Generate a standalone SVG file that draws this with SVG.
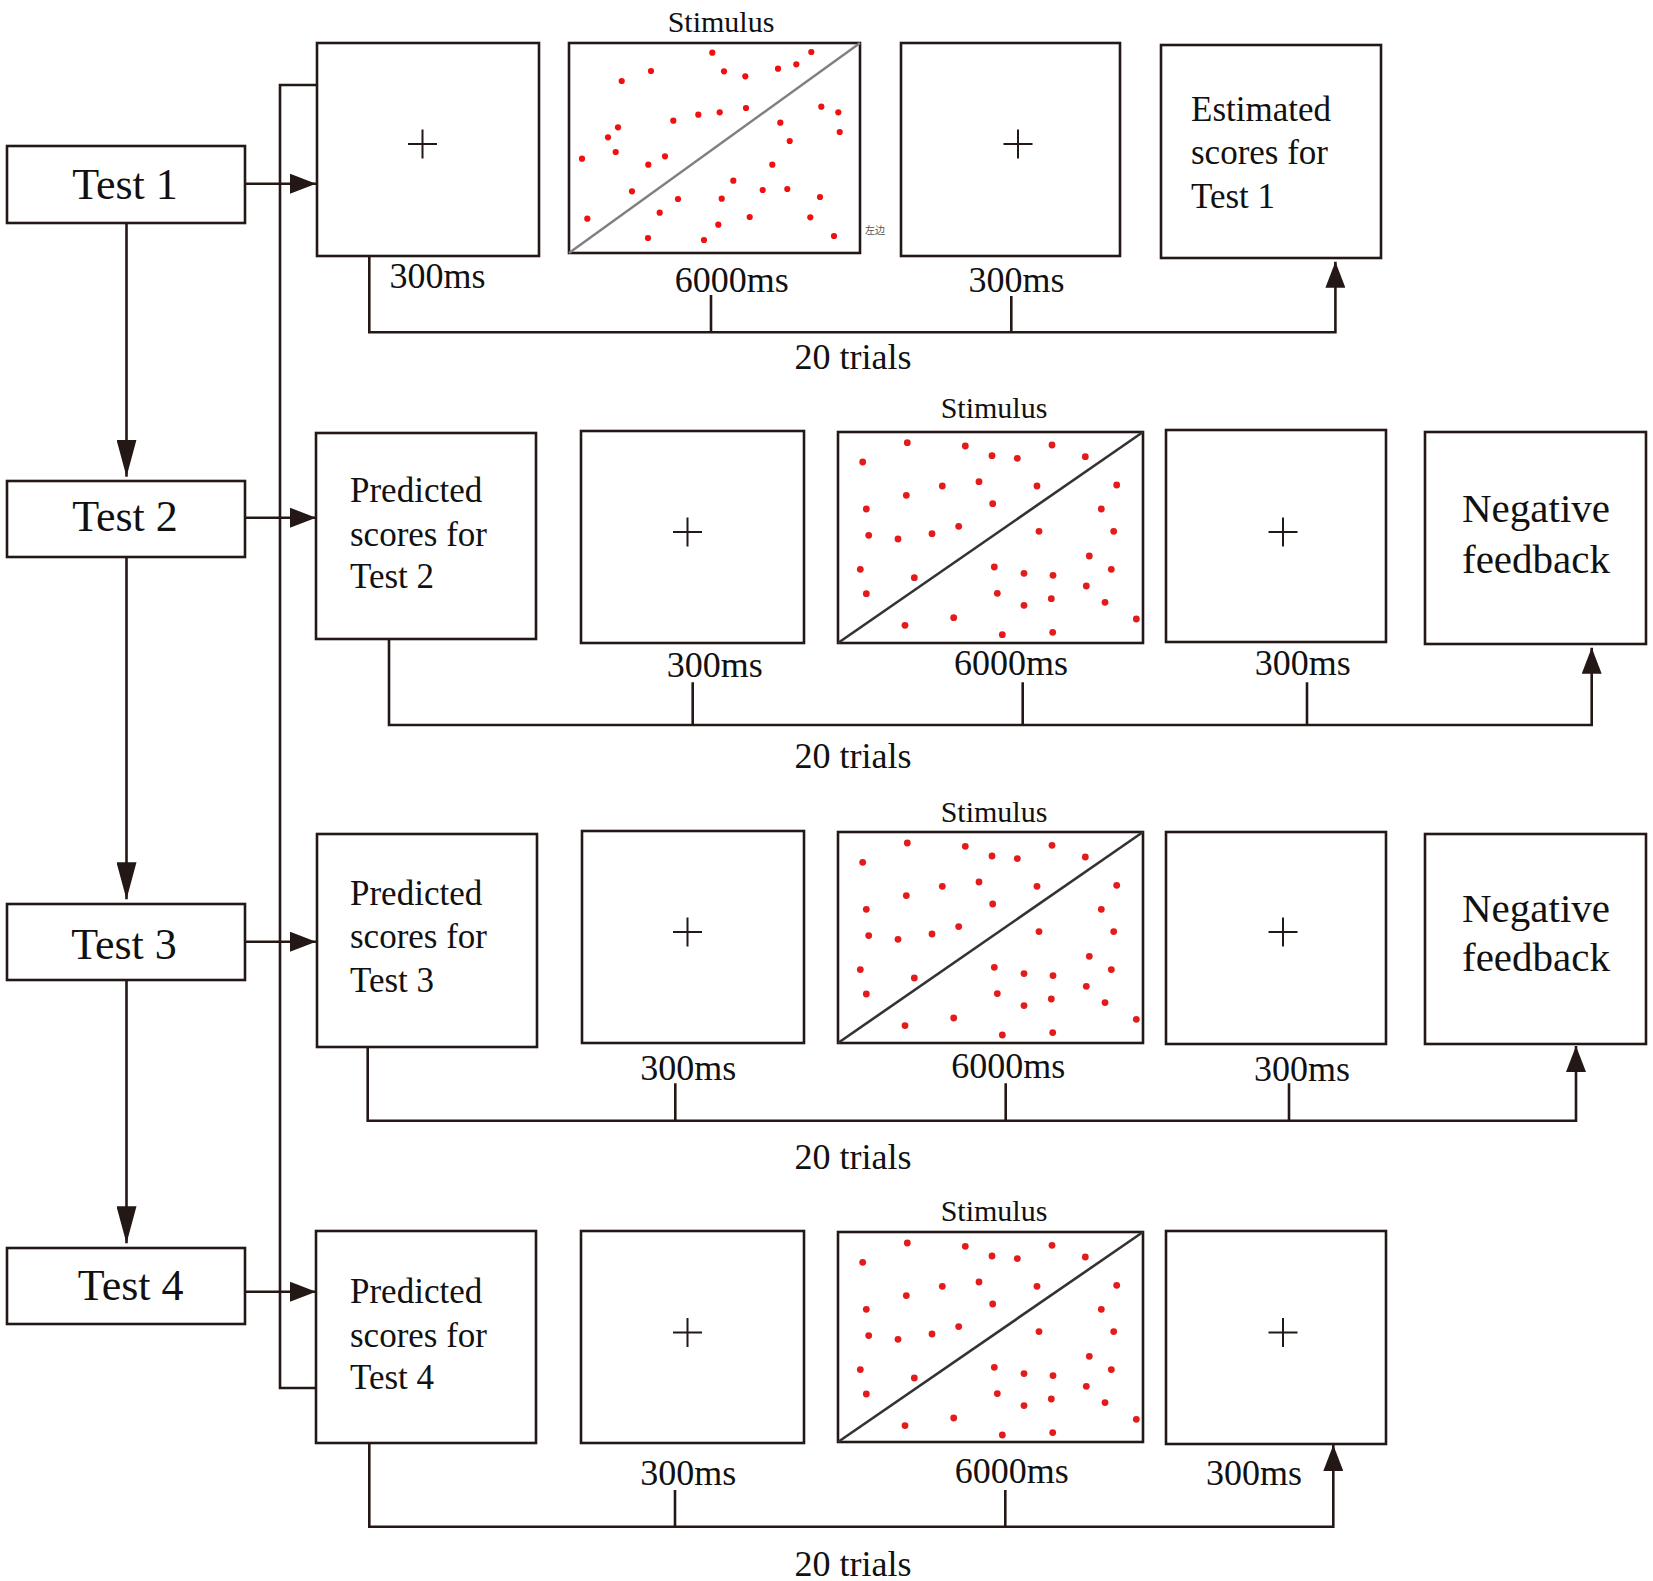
<svg xmlns="http://www.w3.org/2000/svg" xmlns:xlink="http://www.w3.org/1999/xlink" width="1653" height="1581" viewBox="0 0 1653 1581">
<style>
.box{fill:#fff;stroke:#231815;stroke-width:2.6}
.stim{fill:#fff;stroke:#231815;stroke-width:2.6}
.ln{fill:none;stroke:#231815;stroke-width:2.6}
.plus{fill:none;stroke:#231815;stroke-width:2}
.t{font-family:"Liberation Serif","Times New Roman",serif;fill:#111}
.tb{font-size:44px;text-anchor:middle}
.tx{font-size:35px}
.lab{font-size:36px;text-anchor:middle}
.neg{font-size:41px;text-anchor:middle}
.st{font-size:30px;text-anchor:middle}
.d1{fill:#f01010}
.d2{fill:#e31b1b}
</style>
<defs>
<marker id="ah" viewBox="0 0 26 20" refX="26" refY="10" markerWidth="26" markerHeight="20" orient="auto" markerUnits="userSpaceOnUse"><path d="M0,0 L26,10 L0,20 Z" fill="#231815"/></marker>
<marker id="ahl" viewBox="0 0 37 20" refX="37" refY="10" markerWidth="37" markerHeight="20" orient="auto" markerUnits="userSpaceOnUse"><path d="M0,0 L37,10 L0,20 Z" fill="#231815"/></marker>
<g id="dots2" class="d2">
<circle cx="907.3" cy="442.7" r="3.4"/><circle cx="965.3" cy="446" r="3.4"/><circle cx="1052" cy="445" r="3.4"/><circle cx="862.7" cy="462" r="3.4"/><circle cx="992" cy="455.7" r="3.4"/><circle cx="1017.3" cy="458.3" r="3.4"/><circle cx="1085.3" cy="456.7" r="3.4"/><circle cx="942.3" cy="486" r="3.4"/><circle cx="979" cy="481.7" r="3.4"/><circle cx="1037" cy="486" r="3.4"/><circle cx="1116.7" cy="485" r="3.4"/><circle cx="906.3" cy="495.3" r="3.4"/><circle cx="992.7" cy="503.7" r="3.4"/><circle cx="866.3" cy="509" r="3.4"/><circle cx="1101.3" cy="509" r="3.4"/><circle cx="868.7" cy="535.3" r="3.4"/><circle cx="898" cy="539" r="3.4"/><circle cx="932" cy="533.7" r="3.4"/><circle cx="958.7" cy="526.3" r="3.4"/><circle cx="1039" cy="531.3" r="3.4"/><circle cx="1113.7" cy="531.3" r="3.4"/><circle cx="1089.3" cy="556" r="3.4"/><circle cx="860.3" cy="569.3" r="3.4"/><circle cx="994.3" cy="567" r="3.4"/><circle cx="1024" cy="573.3" r="3.4"/><circle cx="1053" cy="575.3" r="3.4"/><circle cx="1111.3" cy="569.3" r="3.4"/><circle cx="914.3" cy="577.7" r="3.4"/><circle cx="1086.3" cy="586" r="3.4"/><circle cx="866.3" cy="593.7" r="3.4"/><circle cx="997.3" cy="593.3" r="3.4"/><circle cx="1024" cy="605.3" r="3.4"/><circle cx="1051.3" cy="598.7" r="3.4"/><circle cx="1105" cy="602.3" r="3.4"/><circle cx="1136.3" cy="619" r="3.4"/><circle cx="953.7" cy="617.7" r="3.4"/><circle cx="905" cy="625.3" r="3.4"/><circle cx="1002.3" cy="634.7" r="3.4"/><circle cx="1052.7" cy="632.3" r="3.4"/>
</g>
</defs>
<rect width="1653" height="1581" fill="#fff"/>

<g id="connectors">
<path class="ln" d="M126.5,223 V476.7" marker-end="url(#ahl)"/>
<path class="ln" d="M126.5,557 V899.3" marker-end="url(#ahl)"/>
<path class="ln" d="M126.5,980 V1243.3" marker-end="url(#ahl)"/>
<path class="ln" d="M245,183.7 H316" marker-end="url(#ah)"/>
<path class="ln" d="M245,517.7 H316" marker-end="url(#ah)"/>
<path class="ln" d="M245,941.7 H316" marker-end="url(#ah)"/>
<path class="ln" d="M245,1291.7 H316" marker-end="url(#ah)"/>
<path class="ln" d="M317,85 H280 V1388 H316"/>
<path class="ln" d="M369.3,256 V332.3 H1335.4 V261.7" marker-end="url(#ah)"/>
<path class="ln" d="M711,295 V332.3 M1011.3,296 V332.3"/>
<path class="ln" d="M389,639.3 V725 H1591.7 V647.7" marker-end="url(#ah)"/>
<path class="ln" d="M692.7,682.3 V725 M1022.7,682.3 V725 M1307,682.3 V725"/>
<path class="ln" d="M367.7,1046.7 V1120.7 H1576 V1046" marker-end="url(#ah)"/>
<path class="ln" d="M675.3,1083.3 V1120.7 M1005.7,1083.3 V1120.7 M1289,1083.3 V1120.7"/>
<path class="ln" d="M369.3,1443.3 V1526.7 H1333.3 V1445" marker-end="url(#ah)"/>
<path class="ln" d="M675,1490 V1526.7 M1005.3,1490 V1526.7"/>
</g>

<g id="test1"><rect class="box" x="7" y="146" width="238" height="77"/><text class="t tb" x="125" y="199">Test 1</text></g>
<g id="test2"><rect class="box" x="7" y="481" width="238" height="76"/><text class="t tb" x="125" y="531">Test 2</text></g>
<g id="test3"><rect class="box" x="7" y="904" width="238" height="76"/><text class="t tb" x="124" y="959">Test 3</text></g>
<g id="test4"><rect class="box" x="7" y="1248" width="238" height="76"/><text class="t tb" x="130.7" y="1300">Test 4</text></g>

<!-- Row 1 -->
<g id="r1-fix1"><rect class="box" x="317" y="43" width="222" height="213"/><path class="plus" d="M408,144 h29 M422.5,129.5 v29"/></g>
<g id="r1-stim">
<text class="t st" x="721" y="32">Stimulus</text>
<rect class="stim" x="569" y="43" width="291" height="210"/>
<line x1="569" y1="253" x2="860" y2="43" stroke="#808080" stroke-width="2.5"/>
<g class="d1">
<circle cx="712.3" cy="52.7" r="3.1"/><circle cx="811.3" cy="52" r="3.1"/><circle cx="651" cy="71" r="3.1"/><circle cx="724" cy="71.3" r="3.1"/><circle cx="745.3" cy="76.3" r="3.1"/><circle cx="778" cy="68.7" r="3.1"/><circle cx="796.3" cy="64.3" r="3.1"/><circle cx="621.7" cy="81" r="3.1"/><circle cx="821.3" cy="106.7" r="3.1"/><circle cx="838.3" cy="112.3" r="3.1"/><circle cx="839.7" cy="132" r="3.1"/><circle cx="746" cy="108" r="3.1"/><circle cx="719.7" cy="112.3" r="3.1"/><circle cx="698.3" cy="114.7" r="3.1"/><circle cx="673.3" cy="120.7" r="3.1"/><circle cx="618" cy="127.3" r="3.1"/><circle cx="608" cy="137.3" r="3.1"/><circle cx="780.3" cy="122.7" r="3.1"/><circle cx="789.7" cy="141" r="3.1"/><circle cx="615.7" cy="152" r="3.1"/><circle cx="582" cy="158.7" r="3.1"/><circle cx="665" cy="156.3" r="3.1"/><circle cx="648.3" cy="164.7" r="3.1"/><circle cx="772.3" cy="164.7" r="3.1"/><circle cx="733.3" cy="180.7" r="3.1"/><circle cx="632" cy="191.3" r="3.1"/><circle cx="762.7" cy="190" r="3.1"/><circle cx="787.3" cy="189" r="3.1"/><circle cx="820" cy="197" r="3.1"/><circle cx="678" cy="199" r="3.1"/><circle cx="721.7" cy="198.7" r="3.1"/><circle cx="659.7" cy="212.7" r="3.1"/><circle cx="587.3" cy="218.7" r="3.1"/><circle cx="749.7" cy="217" r="3.1"/><circle cx="810.3" cy="217.3" r="3.1"/><circle cx="718.3" cy="224.7" r="3.1"/><circle cx="648" cy="238" r="3.1"/><circle cx="704" cy="240" r="3.1"/><circle cx="834" cy="236" r="3.1"/>
</g>
<text x="865" y="234" font-family="'Noto Sans CJK SC',sans-serif" font-size="10" fill="#555">左边</text>
</g>
<g id="r1-fix2"><rect class="box" x="901" y="43" width="219" height="213"/><path class="plus" d="M1003.5,144 h29 M1018,129.5 v29"/></g>
<g id="r1-est"><rect class="box" x="1161" y="45" width="220" height="213"/>
<text class="t tx" x="1191" y="120.7">Estimated</text><text class="t tx" x="1191" y="164.3">scores for</text><text class="t tx" x="1191" y="208.3">Test 1</text></g>
<g id="r1-labels">
<text class="t lab" x="437.5" y="288">300ms</text><text class="t lab" x="731.7" y="292">6000ms</text><text class="t lab" x="1016.4" y="292">300ms</text>
<text class="t lab" x="853" y="369">20 trials</text>
</g>

<!-- Row 2 -->
<g id="r2-pred"><rect class="box" x="316" y="433" width="220" height="206"/>
<text class="t tx" x="350" y="501.7">Predicted</text><text class="t tx" x="350" y="546">scores for</text><text class="t tx" x="350" y="588">Test 2</text></g>
<g id="r2-fix1"><rect class="box" x="581" y="431" width="223" height="212"/><path class="plus" d="M673,532 h29 M687.5,517.5 v29"/></g>
<g id="r2-stim">
<text class="t st" x="994" y="418">Stimulus</text>
<rect class="stim" x="838" y="432" width="305" height="211"/>
<line x1="838" y1="643" x2="1143" y2="432" stroke="#333" stroke-width="2.6"/>
<use xlink:href="#dots2"/>
</g>
<g id="r2-fix2"><rect class="box" x="1166" y="430" width="220" height="212"/><path class="plus" d="M1268.5,532 h29 M1283,517.5 v29"/></g>
<g id="r2-neg"><rect class="box" x="1425" y="432" width="221" height="212"/>
<text class="t neg" x="1536" y="521.7">Negative</text><text class="t neg" x="1536" y="573.3">feedback</text></g>
<g id="r2-labels">
<text class="t lab" x="714.8" y="677">300ms</text><text class="t lab" x="1011" y="675">6000ms</text><text class="t lab" x="1302.7" y="675">300ms</text>
<text class="t lab" x="853" y="768">20 trials</text>
</g>

<!-- Row 3 -->
<g id="r3-pred"><rect class="box" x="317" y="834" width="220" height="213"/>
<text class="t tx" x="350" y="905">Predicted</text><text class="t tx" x="350" y="948.3">scores for</text><text class="t tx" x="350" y="992.3">Test 3</text></g>
<g id="r3-fix1"><rect class="box" x="582" y="831" width="222" height="212"/><path class="plus" d="M673,932 h29 M687.5,917.5 v29"/></g>
<g id="r3-stim">
<text class="t st" x="994" y="822">Stimulus</text>
<rect class="stim" x="838" y="832" width="305" height="211"/>
<line x1="838" y1="1043" x2="1143" y2="832" stroke="#333" stroke-width="2.6"/>
<use xlink:href="#dots2" transform="translate(0,400.3)"/>
</g>
<g id="r3-fix2"><rect class="box" x="1166" y="832" width="220" height="212"/><path class="plus" d="M1268.5,932 h29 M1283,917.5 v29"/></g>
<g id="r3-neg"><rect class="box" x="1425" y="834" width="221" height="210"/>
<text class="t neg" x="1536" y="921.5">Negative</text><text class="t neg" x="1536" y="971">feedback</text></g>
<g id="r3-labels">
<text class="t lab" x="688.3" y="1080">300ms</text><text class="t lab" x="1008.3" y="1078">6000ms</text><text class="t lab" x="1302" y="1081">300ms</text>
<text class="t lab" x="853" y="1169">20 trials</text>
</g>

<!-- Row 4 -->
<g id="r4-pred"><rect class="box" x="316" y="1231" width="220" height="212"/>
<text class="t tx" x="350" y="1302.7">Predicted</text><text class="t tx" x="350" y="1346.7">scores for</text><text class="t tx" x="350" y="1389.3">Test 4</text></g>
<g id="r4-fix1"><rect class="box" x="581" y="1231" width="223" height="212"/><path class="plus" d="M673,1332.5 h29 M687.5,1318 v29"/></g>
<g id="r4-stim">
<text class="t st" x="994" y="1221">Stimulus</text>
<rect class="stim" x="838" y="1232" width="305" height="210"/>
<line x1="838" y1="1442" x2="1143" y2="1232" stroke="#333" stroke-width="2.6"/>
<use xlink:href="#dots2" transform="translate(0,800.3)"/>
</g>
<g id="r4-fix2"><rect class="box" x="1166" y="1231" width="220" height="213"/><path class="plus" d="M1268.5,1332.5 h29 M1283,1318 v29"/></g>
<g id="r4-labels">
<text class="t lab" x="688.3" y="1485">300ms</text><text class="t lab" x="1011.7" y="1483">6000ms</text><text class="t lab" x="1254" y="1485">300ms</text>
<text class="t lab" x="853" y="1576">20 trials</text>
</g>
</svg>
